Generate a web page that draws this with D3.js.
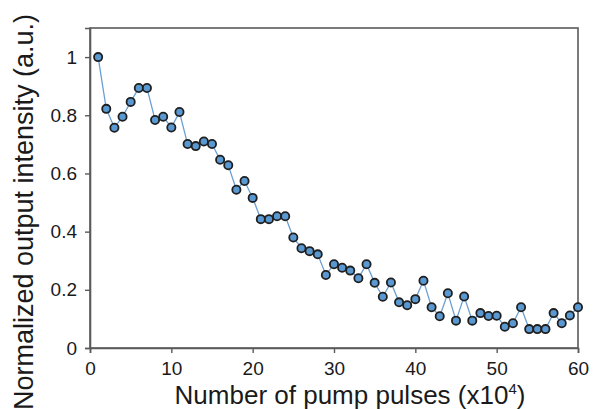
<!DOCTYPE html>
<html>
<head>
<meta charset="utf-8">
<script src="https://cdn.jsdelivr.net/npm/d3@7"></script>
<style>
  html, body { margin: 0; padding: 0; background: #fff; }
  svg { display: block; font-family: "Liberation Sans", Arial, sans-serif; }
</style>
</head>
<body>
<svg id="chart" width="597" height="409"></svg>
<script>
// Pump pulse count (units of 10^4) for each measurement
const pulses = d3.range(1, 61);

// Normalized output intensity at each pulse count
const intensity = [
  1.00, 0.822, 0.757, 0.795, 0.846, 0.894, 0.894, 0.784, 0.795, 0.758,
  0.811, 0.701, 0.694, 0.710, 0.701, 0.647, 0.628, 0.544, 0.574, 0.516,
  0.443, 0.443, 0.453, 0.453, 0.380, 0.343, 0.333, 0.322, 0.251, 0.288,
  0.276, 0.266, 0.240, 0.288, 0.224, 0.176, 0.225, 0.157, 0.147, 0.168,
  0.231, 0.140, 0.109, 0.188, 0.094, 0.177, 0.094, 0.120, 0.110, 0.111,
  0.073, 0.085, 0.140, 0.065, 0.065, 0.065, 0.120, 0.085, 0.112, 0.140
];

const xTicks = [0, 10, 20, 30, 40, 50, 60];
const yTicks = [0, 0.2, 0.4, 0.6, 0.8, 1];
const yTickLabels = ["0", "0.2", "0.4", "0.6", "0.8", "1"];

const svg = d3.select("#chart");
const margin = { left: 90, right: 19, top: 28, bottom: 61 };
const W = 597, H = 409;
const plotW = W - margin.left - margin.right;
const plotH = H - margin.top - margin.bottom;

const x = d3.scaleLinear().domain([0, 60]).range([0, plotW]);
const y = d3.scaleLinear().domain([0, 1.1]).range([plotH, 0]);

const g = svg.append("g").attr("transform", `translate(${margin.left},${margin.top})`);

const frameColor = "#5a5a5a";

// Frame around the plotting area
g.append("rect")
  .attr("x", 0).attr("y", 0)
  .attr("width", plotW).attr("height", plotH)
  .attr("fill", "none")
  .attr("stroke", frameColor)
  .attr("stroke-width", 1.6);

// Bottom axis
const xAxis = g.append("g")
  .attr("transform", `translate(0,${plotH})`)
  .call(d3.axisBottom(x).tickValues(xTicks).tickSize(5).tickPadding(9).tickFormat(d3.format("d")));

// Left axis
const yAxis = g.append("g")
  .call(d3.axisLeft(y).tickValues(yTicks).tickSize(5).tickPadding(8)
    .tickFormat((d, i) => yTickLabels[i]));

[xAxis, yAxis].forEach(ax => {
  ax.select(".domain").attr("stroke", frameColor).attr("stroke-width", 1.6);
  ax.selectAll(".tick line").attr("stroke", frameColor).attr("stroke-width", 1.4);
  ax.selectAll(".tick text")
    .attr("fill", "#1a1a1a")
    .style("font-size", "19px")
    .style("font-family", "'Liberation Sans', Arial, sans-serif");
});

// Connecting line
const pts = pulses.map((p, i) => ({ p, v: intensity[i] }));
g.append("path")
  .datum(pts)
  .attr("fill", "none")
  .attr("stroke", "#6b9fd3")
  .attr("stroke-width", 1.3)
  .attr("d", d3.line().x(d => x(d.p)).y(d => y(d.v)));

// Markers
g.selectAll("circle.pt")
  .data(pts)
  .join("circle")
  .attr("class", "pt")
  .attr("cx", d => x(d.p))
  .attr("cy", d => y(d.v))
  .attr("r", 4.1)
  .attr("fill", "#5a98d2")
  .attr("stroke", "#1f1f1f")
  .attr("stroke-width", 1.8);

// Axis titles
const xt = svg.append("text")
  .attr("x", 350)
  .attr("y", 403.5)
  .attr("text-anchor", "middle")
  .attr("fill", "#1a1a1a")
  .style("font-size", "26px");
xt.append("tspan").text("Number of pump pulses (x10");
xt.append("tspan").attr("dy", -10).style("font-size", "15px").text("4");
xt.append("tspan").attr("dy", 10).text(")");

svg.append("text")
  .attr("transform", "translate(33,212) rotate(-90)")
  .attr("text-anchor", "middle")
  .attr("fill", "#1a1a1a")
  .style("font-size", "27px")
  .text("Normalized output intensity (a.u.)");
</script>
</body>
</html>
